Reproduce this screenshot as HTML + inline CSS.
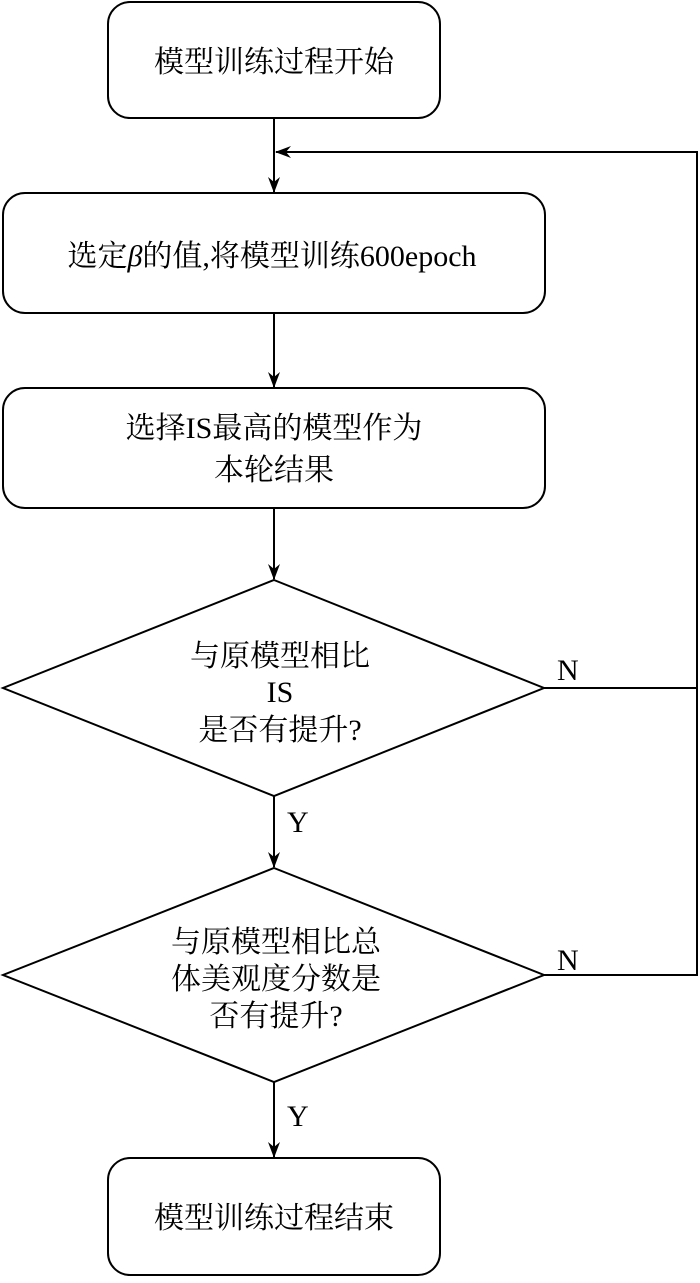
<!DOCTYPE html>
<html><head><meta charset="utf-8"><style>
html,body{margin:0;padding:0;background:#fff;}
svg text{font-family:"Liberation Serif","Noto Serif CJK SC",serif;font-size:30px;fill:#000;}
</style></head><body>
<svg width="700" height="1278" viewBox="0 0 700 1278" xmlns="http://www.w3.org/2000/svg">
<defs><marker id="a" markerWidth="16" markerHeight="14" refX="15" refY="7" orient="auto" markerUnits="userSpaceOnUse"><path d="M0,1 L16,7 L0,13 L5,7 Z" fill="#000"/></marker></defs>
<g fill="none" stroke="#000" stroke-width="2">
<rect x="108" y="2" width="332" height="116" rx="22"/>
<rect x="3" y="193" width="542" height="120" rx="22"/>
<rect x="3" y="388" width="542" height="120" rx="22"/>
<polygon points="274,580 544,688 274,796 3,688"/>
<polygon points="274,868 544,975 274,1082 3,975"/>
<rect x="108" y="1158" width="332" height="117" rx="22"/>
<line x1="274" y1="118" x2="274" y2="192" marker-end="url(#a)"/>
<line x1="274" y1="313" x2="274" y2="387" marker-end="url(#a)"/>
<line x1="274" y1="508" x2="274" y2="579" marker-end="url(#a)"/>
<line x1="274" y1="796" x2="274" y2="867" marker-end="url(#a)"/>
<line x1="274" y1="1082" x2="274" y2="1157" marker-end="url(#a)"/>
<polyline points="544,688 697,688 697,152 276,152" marker-end="url(#a)"/>
<polyline points="544,975 697,975 697,688"/>
</g>
<text x="274" y="72" text-anchor="middle">模型训练过程开始</text>
<text x="272" y="266" text-anchor="middle">选定<tspan font-style="italic">β</tspan>的值,将模型训练600epoch</text>
<text x="274" y="438" text-anchor="middle">选择IS最高的模型作为</text>
<text x="274" y="480" text-anchor="middle">本轮结果</text>
<text x="280" y="666" text-anchor="middle">与原模型相比</text>
<text x="280" y="702" text-anchor="middle">IS</text>
<text x="280" y="740" text-anchor="middle">是否有提升?</text>
<text x="276" y="952" text-anchor="middle">与原模型相比总</text>
<text x="276" y="989" text-anchor="middle">体美观度分数是</text>
<text x="276" y="1026" text-anchor="middle">否有提升?</text>
<text x="557" y="680">N</text>
<text x="557" y="970">N</text>
<text x="287" y="832">Y</text>
<text x="287" y="1126">Y</text>
<text x="274" y="1228" text-anchor="middle">模型训练过程结束</text>
</svg>
</body></html>
